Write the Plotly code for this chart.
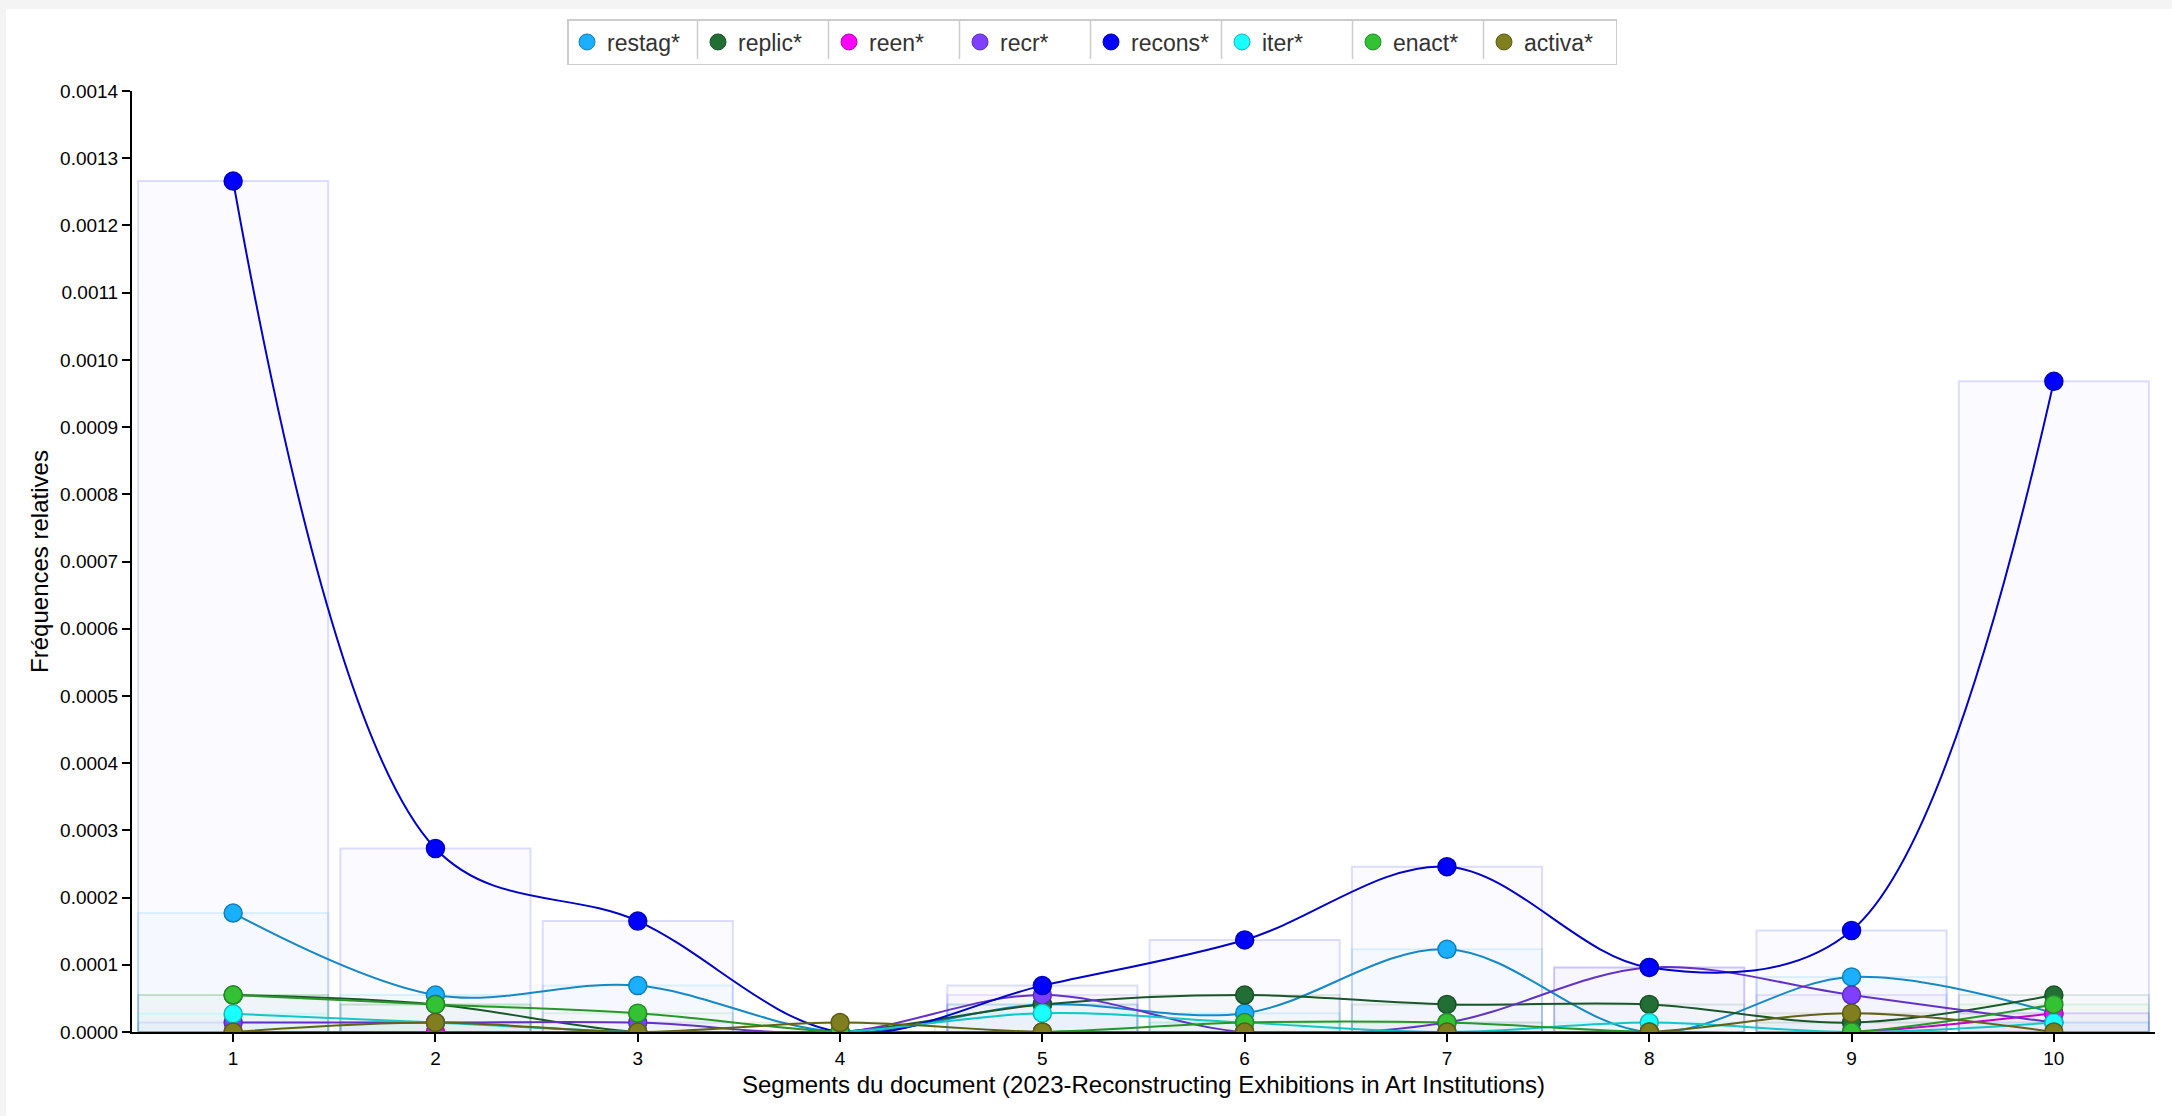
import plotly.graph_objects as go

# ---- data ----
segments = [1, 2, 3, 4, 5, 6, 7, 8, 9, 10]
series_names = ["restag*", "replic*", "reen*", "recr*", "recons*", "iter*", "enact*", "activa*"]
restag = [0.000177, 0.000055, 0.000069, 0.0, 0.000041, 0.000028, 0.000123, 0.0, 0.000082, 0.000028]
replic = [0.000055, 0.000041, 0.0, 0.0, 0.000041, 0.000055, 0.000041, 0.000041, 0.000014, 0.000055]
reen = [0.0, 0.0, 0.0, 0.0, 0.0, 0.0, 0.0, 0.0, 0.0, 0.000028]
recr = [0.000014, 0.000014, 0.000014, 0.0, 0.000055, 0.0, 0.000014, 0.000096, 0.000055, 0.000014]
recons = [0.001266, 0.000273, 0.000165, 0.0, 0.000069, 0.000137, 0.000246, 0.000096, 0.000151, 0.000968]
iter_ = [0.000027, 0.000014, 0.0, 0.0, 0.000028, 0.000014, 0.0, 0.000014, 0.0, 0.000014]
enact = [0.000055, 0.000041, 0.000028, 0.0, 0.0, 0.000014, 0.000014, 0.0, 0.0, 0.000041]
activa = [0.0, 0.000014, 0.0, 0.000014, 0.0, 0.0, 0.0, 0.0, 0.000028, 0.0]
series_values = [restag, replic, reen, recr, recons, iter_, enact, activa]
series_colors = ["#1ab0ff", "#226f36", "#ff00ff", "#7f3fff", "#0000ff", "#1affff", "#33c233", "#7f7f1f"]
y_ticks = [i * 0.0001 for i in range(15)]

FONT = "Liberation Sans, Arial, Helvetica, sans-serif"
W, H = 2172, 1116
L, R, T, B = 132, 17, 91, 84


def rgba(hexc, a):
    h = hexc.lstrip("#")
    r, g, b = int(h[0:2], 16), int(h[2:4], 16), int(h[4:6], 16)
    return f"rgba({r},{g},{b},{a})"


def darker(hexc, k=0.78):
    h = hexc.lstrip("#")
    r, g, b = int(h[0:2], 16), int(h[2:4], 16), int(h[4:6], 16)
    return f"rgb({int(r*k)},{int(g*k)},{int(b*k)})"


fig = go.Figure()

# bars (very light, overlaid)
for name, vals, col in zip(series_names, series_values, series_colors):
    fig.add_trace(go.Bar(
        x=segments, y=vals, width=0.94, name=name, legendgroup=name, showlegend=False,
        marker=dict(color=rgba(col, 0.02), line=dict(color=rgba(col, 0.13), width=2)),
        hoverinfo="skip",
    ))

# smoothed lines with markers
for name, vals, col in zip(series_names, series_values, series_colors):
    fig.add_trace(go.Scatter(
        x=segments, y=vals, name=name, legendgroup=name, showlegend=False,
        mode="lines+markers",
        line=dict(color=darker(col), width=2, shape="spline", smoothing=1),
        marker=dict(size=18, color=col, line=dict(color=darker(col, 0.72), width=1.5)),
    ))

# legend entries (marker only)
for name, col in zip(series_names, series_colors):
    fig.add_trace(go.Scatter(
        x=[None], y=[None], name=name, legendgroup=name, mode="markers",
        marker=dict(size=18, color=col, line=dict(color=darker(col, 0.72), width=1)),
    ))


def px_x(p):
    return (p - L) / (W - L - R)


def px_y(p):
    return (H - B - p) / (H - T - B)


# legend geometry (pixels)
LEG_CX, LEG_TOP = 1092, 19
ENTRY_W = 86
PITCH = ENTRY_W + 45
LEG_W = PITCH * len(series_names)
leg_left = LEG_CX - LEG_W / 2

shapes = [
    dict(type="rect", xref="paper", yref="paper", x0=px_x(0), x1=px_x(6), y0=px_y(H), y1=px_y(0),
         fillcolor="#f4f4f4", line=dict(width=0), layer="below"),
    dict(type="rect", xref="paper", yref="paper", x0=px_x(0), x1=px_x(W), y0=px_y(9), y1=px_y(0),
         fillcolor="#f4f4f4", line=dict(width=0), layer="below"),
]
for i in range(1, len(series_names)):
    sx = leg_left + 1.5 + i * PITCH - 3
    shapes.append(dict(type="line", xref="paper", yref="paper", x0=px_x(sx), x1=px_x(sx),
                       y0=px_y(LEG_TOP + 1), y1=px_y(LEG_TOP + 40),
                       line=dict(color="#cccccc", width=1.5), layer="above"))

fig.update_layout(
    width=W, height=H,
    margin=dict(l=L, r=R, t=T, b=B, autoexpand=False),
    paper_bgcolor="white", plot_bgcolor="white",
    barmode="overlay",
    font=dict(family=FONT, size=19, color="black"),
    shapes=shapes,
    showlegend=True,
    legend=dict(
        orientation="h", x=px_x(LEG_CX), xanchor="center", y=px_y(LEG_TOP), yanchor="top",
        bordercolor="#cccccc", borderwidth=1.5, bgcolor="rgba(255,255,255,0)",
        font=dict(family=FONT, size=23, color="#333333"),
        itemsizing="trace", entrywidth=ENTRY_W, entrywidthmode="pixels",
        tracegroupgap=0,
    ),
    xaxis=dict(
        range=[0.5, 10.5], tickmode="array", tickvals=segments, ticktext=[str(s) for s in segments],
        showgrid=False, zeroline=False, showline=True, linecolor="black", linewidth=2,
        ticks="outside", ticklen=8, tickwidth=1.5, tickcolor="black",
        tickfont=dict(size=19, color="black"),
        title=dict(text="Segments du document (2023-Reconstructing Exhibitions in Art Institutions)",
                   font=dict(size=24, color="black"), standoff=8),
    ),
    yaxis=dict(
        range=[0, 0.0014], tickmode="array", tickvals=y_ticks, ticktext=[f"{v:.4f}" for v in y_ticks],
        showgrid=False, zeroline=False, showline=True, linecolor="black", linewidth=2,
        ticks="outside", ticklen=8, tickwidth=1.5, tickcolor="black",
        tickfont=dict(size=19, color="black"),
        title=dict(text="Fréquences relatives", font=dict(size=24, color="black"), standoff=5),
    ),
)

fig.write_html("out.html")
